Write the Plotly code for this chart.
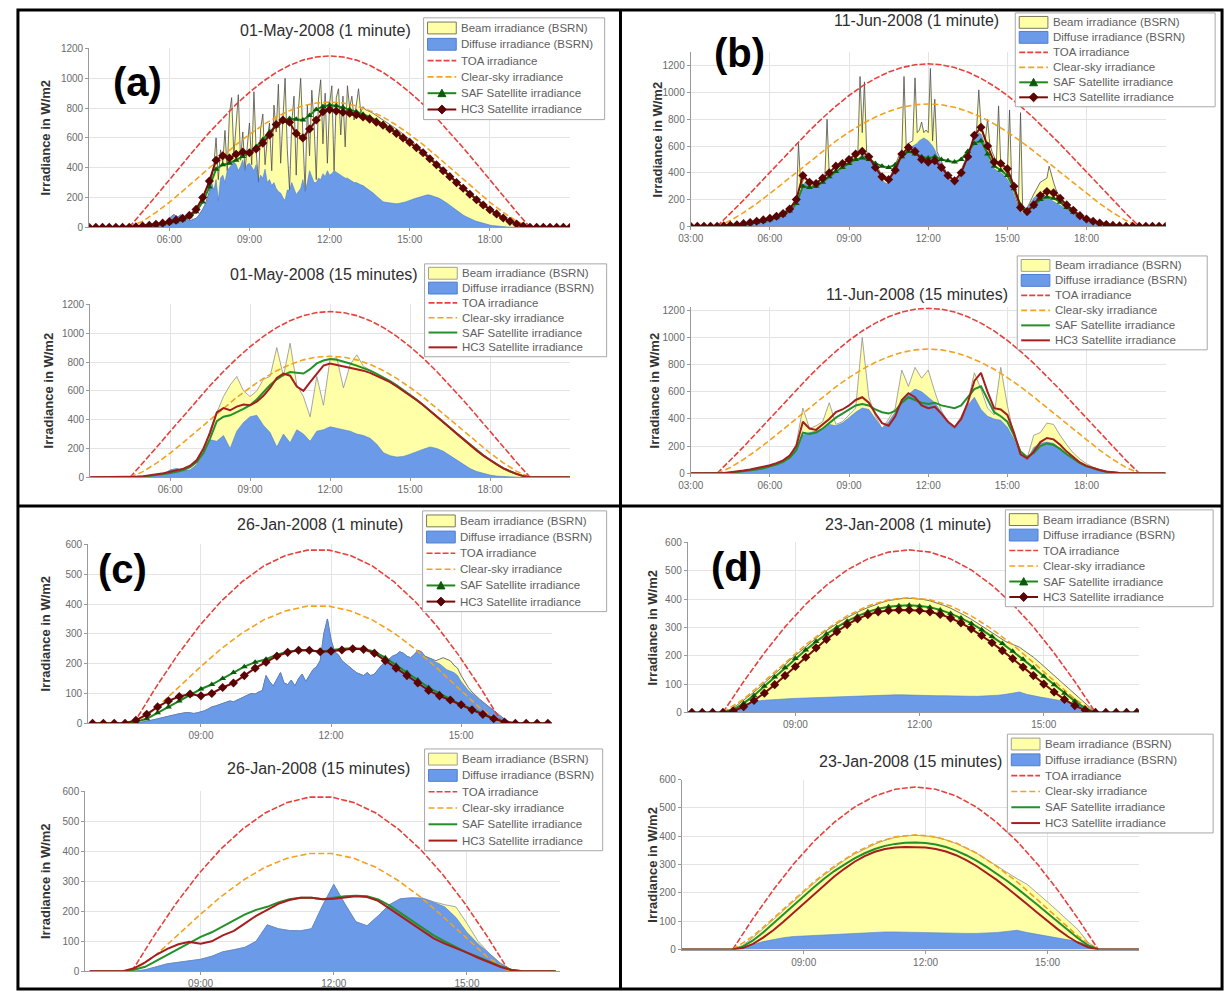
import plotly.graph_objects as go

W, H = 1227, 999

# ------------------------------------------------------------------ data ---
# All times are hours of the day. Each series lies on a regular grid given by
# its start hour and its step in minutes.

# ---------- 01-May-2008 ----------
MAY_SUN_START, MAY_SUN_STEP = 4.5, 30
MAY_TOA = [0, 103, 210, 318, 427, 534, 637, 734, 825, 906, 978, 1039, 1087, 1122, 1143, 1150,
           1143, 1122, 1087, 1039, 978, 906, 825, 734, 637, 534, 427, 318, 210, 103, 0]
MAY_CLEAR = [0, 41, 100, 168, 243, 322, 401, 479, 555, 623, 686, 740, 783, 815, 834, 840,
             834, 815, 783, 740, 686, 623, 555, 479, 401, 322, 243, 168, 100, 41, 0]

MAY_SAT_START, MAY_SAT_STEP = 3.0, 15
MAY_SAF = [0, 0, 0, 0, 0, 0, 0,
           2, 5, 10, 15, 22,
           30, 38, 50, 70,
           105, 170, 270, 390,
           420, 430, 450, 475,
           500, 540, 590, 640,
           680, 710, 730, 725,
           720, 750, 790, 810,
           820, 815, 805, 790,
           775, 758, 740, 718,
           695, 668, 638, 606,
           572, 537, 500, 462,
           423, 383, 343, 303,
           264, 225, 188, 152,
           120, 90, 62, 40,
           22, 8, 0, 0,
           0, 0, 0, 0, 0]
MAY_HC3 = [0, 0, 0, 0, 0, 0, 0,
           3, 8, 14, 20, 28,
           38, 48, 60, 80,
           120, 200, 310, 450,
           480, 465, 490, 505,
           500, 525, 565, 620,
           690, 720, 705, 630,
           600, 660, 720, 775,
           790, 780, 772, 765,
           755, 740, 725, 705,
           685, 660, 630, 600,
           570, 535, 500, 460,
           420, 380, 340, 300,
           262, 222, 185, 150,
           118, 90, 62, 40,
           22, 8, 0, 0,
           0, 0, 0, 0, 0]

MAY_Q_START, MAY_Q_STEP = 4.5, 15
MAY_GLOBAL_Q = [0, 2, 5, 8, 12, 20,
                50, 60, 45, 50,
                90, 180, 330, 450,
                560, 640, 700, 600,
                560, 600, 680, 700,
                900, 700, 930, 640,
                560, 420, 700, 500,
                820, 830, 620, 780,
                850, 770, 745, 720,
                690, 660, 630, 600,
                570, 535, 498, 460,
                420, 380, 340, 300,
                262, 222, 185, 150,
                118, 88, 60, 38,
                20, 7, 0]
MAY_DIFFUSE_Q = [0, 2, 5, 8, 12, 20,
                 50, 60, 45, 50,
                 85, 160, 260, 250,
                 290, 200, 320, 380,
                 420, 430, 360, 310,
                 210, 300, 240, 330,
                 300, 250, 320, 330,
                 350, 340, 330, 320,
                 300, 290, 270, 230,
                 170, 150, 140, 145,
                 160, 180, 195, 210,
                 200, 180, 150, 115,
                 85, 60, 40, 25,
                 15, 8, 4, 2,
                 1, 0, 0]

MAY_M_START, MAY_M_STEP = 4.5, 5
MAY_GLOBAL_M = [0, 1, 2, 3, 4, 5,
                6, 7, 8, 10, 11, 13, 15, 17, 20, 24, 30, 40,
                60, 75, 85, 80, 70, 82, 78, 60, 50, 45, 48, 52,
                60, 75, 95, 120, 150, 190, 240, 330, 420, 600, 320, 520,
                430, 650, 380, 760, 870, 480, 720, 890, 450, 640, 380, 570,
                700, 420, 910, 520, 300, 660, 760, 420, 590, 700, 380, 820,
                640, 960, 430, 720, 1000, 520, 250, 700, 880, 350, 790, 1000,
                600, 240, 820, 480, 920, 700, 320, 860, 990, 560, 900, 430,
                830, 950, 380, 870, 930, 620, 880, 540, 950, 800, 880, 720,
                820, 930, 770, 810, 790, 785, 775, 770, 760, 750, 745, 735,
                725, 715, 705, 695, 685, 675, 663, 650, 638, 626, 614, 602,
                590, 578, 565, 552, 540, 527, 514, 500, 487, 474, 460, 446,
                432, 418, 404, 390, 376, 362, 348, 334, 320, 306, 292, 278,
                264, 250, 237, 224, 211, 198, 186, 174, 162, 150, 139, 128,
                118, 108, 98, 89, 80, 72, 64, 56, 49, 42, 36, 30,
                24, 19, 14, 10, 6, 3, 0]
MAY_DIFFUSE_M = [0, 1, 2, 3, 4, 5,
                 6, 7, 8, 10, 11, 13, 15, 17, 20, 24, 30, 40,
                 60, 75, 85, 80, 70, 82, 78, 60, 50, 45, 48, 52,
                 60, 75, 95, 120, 150, 180, 230, 300, 250, 320, 180, 330,
                 350, 300, 380, 400, 420, 440, 420, 380, 410, 450, 380, 420,
                 430, 400, 380, 420, 300, 350, 330, 390, 300, 320, 280, 300,
                 260, 240, 230, 200, 180, 250, 250, 300, 260, 220, 240, 260,
                 320, 240, 300, 380, 340, 300, 300, 330, 320, 360, 340, 380,
                 350, 360, 380, 370, 360, 350, 340, 330, 330, 320, 310, 300,
                 300, 290, 285, 280, 270, 260, 250, 240, 225, 210, 195, 180,
                 172, 168, 165, 163, 160, 158, 158, 160, 162, 165, 170, 175,
                 182, 188, 192, 196, 200, 205, 210, 214, 218, 216, 212, 208,
                 202, 196, 188, 180, 170, 160, 148, 136, 124, 112, 100, 90,
                 82, 74, 66, 59, 52, 46, 40, 35, 30, 26, 22, 18,
                 15, 12, 10, 8, 6, 5, 4, 3, 2, 2, 1, 1,
                 1, 0, 0, 0, 0, 0, 0]

# ---------- 11-Jun-2008 ----------
JUN_SUN_START, JUN_SUN_STEP = 4.0, 30
JUN_TOA = [0, 95, 195, 299, 405, 511, 615, 715, 810, 898, 978, 1048, 1106, 1153, 1187, 1208, 1215,
           1208, 1187, 1153, 1106, 1048, 978, 898, 810, 715, 615, 511, 405, 299, 195, 95, 0]
JUN_CLEAR = [0, 43, 102, 170, 245, 324, 404, 484, 562, 637, 705, 766, 817, 859, 890, 909, 915,
             909, 890, 859, 817, 766, 705, 637, 562, 484, 404, 324, 245, 170, 102, 43, 0]

JUN_SAT_START, JUN_SAT_STEP = 3.0, 15
JUN_SAF = [0, 0, 0, 0, 0,
           2, 5, 9,
           14, 20, 28, 38,
           50, 65, 85, 115,
           170, 300, 290, 300,
           330, 370, 410, 440,
           470, 500, 510, 500,
           470, 450, 440, 460,
           520, 560, 540, 520,
           510, 520, 500, 490,
           480, 500, 560, 620,
           640, 540, 450, 420,
           380, 280, 160, 120,
           150, 200, 220, 210,
           180, 140, 105, 75,
           52, 35, 22, 12,
           6, 2, 0, 0,
           0, 0, 0, 0, 0]
JUN_HC3 = [0, 0, 0, 0, 0,
           3, 8, 12,
           20, 28, 38, 48,
           60, 75, 95, 130,
           200, 380, 330, 320,
           360, 400, 450, 470,
           500, 540, 560, 520,
           440, 370, 350, 420,
           540, 590, 560, 500,
           480, 490, 440, 380,
           340, 400, 520, 680,
           740, 600, 480, 470,
           430, 300, 140, 110,
           160, 230, 260, 250,
           210, 160, 120, 80,
           55, 38, 24, 14,
           7, 3, 0, 0,
           0, 0, 0, 0, 0]

JUN_Q_START, JUN_Q_STEP = 4.0, 15
JUN_GLOBAL_Q = [0, 3, 7, 12,
                18, 25, 33, 42,
                55, 68, 85, 115,
                220, 480, 330, 350,
                380, 520, 360, 380,
                430, 480, 1000, 560,
                420, 330, 400, 480,
                760, 640, 780, 700,
                760, 600, 460, 380,
                340, 420, 520, 740,
                620, 480, 430, 780,
                500, 280, 140, 110,
                280, 300, 370, 360,
                280, 210, 150, 105,
                70, 45, 28, 15,
                8, 3, 1, 0,
                0]
JUN_DIFFUSE_Q = [0, 3, 7, 12,
                 18, 25, 33, 42,
                 55, 68, 85, 115,
                 200, 280, 300, 310,
                 330, 360, 350, 370,
                 410, 450, 480, 470,
                 400, 330, 380, 450,
                 540, 580, 620, 600,
                 560, 520, 450, 370,
                 330, 400, 500, 560,
                 470, 420, 400, 390,
                 340, 250, 130, 100,
                 190, 220, 230, 220,
                 180, 140, 100, 70,
                 48, 32, 20, 11,
                 5, 2, 1, 0,
                 0]

JUN_M_START, JUN_M_STEP = 4.0, 5
JUN_GLOBAL_M = [0, 1, 2, 3, 4, 5, 6, 7, 8, 9, 10, 12,
                14, 16, 18, 20, 23, 26, 29, 32, 35, 38, 42, 46,
                50, 55, 60, 66, 72, 78, 85, 92, 100, 110, 120, 135,
                160, 620, 300, 340, 360, 330, 310, 300, 310, 330, 340, 350,
                340, 370, 800, 390, 400, 410, 420, 440, 450, 460, 470, 490,
                490, 500, 510, 520, 540, 1120, 700, 1080, 560, 520, 500, 490,
                470, 440, 400, 370, 350, 340, 350, 380, 420, 460, 500, 540,
                560, 1120, 600, 620, 630, 640, 1110, 700, 720, 780, 700, 720,
                700, 1180, 640, 950, 560, 520, 480, 440, 410, 390, 370, 350,
                340, 350, 380, 420, 460, 500, 540, 580, 620, 680, 720, 1020,
                760, 700, 650, 800, 620, 560, 520, 480, 900, 460, 440, 420,
                390, 870, 310, 260, 200, 150, 850, 110, 120, 140, 170, 210,
                240, 270, 300, 330, 340, 350, 360, 450, 380, 330, 280, 240,
                210, 190, 172, 156, 142, 128, 116, 105, 94, 84, 75, 66,
                58, 51, 45, 40, 35, 30, 26, 23, 20, 17, 14, 12,
                10, 9, 8, 7, 6, 5, 4, 3, 2, 1, 1, 0,
                0]
JUN_DIFFUSE_M = [0, 1, 2, 3, 4, 5, 6, 7, 8, 9, 10, 12,
                 14, 16, 18, 20, 23, 26, 29, 32, 35, 38, 42, 46,
                 50, 55, 60, 66, 72, 78, 85, 92, 100, 110, 120, 135,
                 160, 200, 260, 300, 330, 320, 300, 290, 300, 310, 320, 330,
                 320, 340, 360, 370, 380, 390, 400, 420, 430, 440, 450, 460,
                 460, 470, 480, 490, 500, 520, 540, 530, 520, 500, 480, 470,
                 450, 420, 380, 350, 330, 320, 330, 360, 400, 430, 470, 500,
                 520, 540, 560, 580, 590, 600, 610, 620, 640, 650, 660, 650,
                 640, 620, 600, 570, 530, 490, 450, 420, 390, 370, 350, 330,
                 320, 330, 360, 400, 440, 480, 520, 560, 600, 640, 680, 700,
                 690, 650, 600, 540, 480, 450, 430, 420, 410, 400, 390, 370,
                 350, 320, 280, 230, 180, 140, 110, 100, 110, 130, 160, 190,
                 210, 225, 235, 240, 235, 225, 215, 205, 195, 185, 175, 165,
                 155, 145, 135, 125, 115, 105, 96, 88, 80, 72, 65, 58,
                 52, 46, 41, 36, 32, 28, 24, 21, 18, 15, 13, 11,
                 9, 8, 7, 6, 5, 4, 3, 2, 2, 1, 1, 0,
                 0]

# ---------- 26-Jan-2008 ----------
J26_SUN_START, J26_SUN_STEP = 7.45, 30
J26_TOA = [0, 118, 227, 324, 407, 475, 528, 563, 581, 581, 563, 528, 475, 407, 324, 227, 118, 0]
J26_CLEAR = [0, 49, 116, 184, 248, 303, 347, 377, 393, 393, 377, 347, 303, 248, 184, 116, 49, 0]

J26_SAT_START, J26_SAT_STEP = 6.5, 15
J26_SAF = [0, 0,
           0, 0, 5, 15,
           35, 55, 75, 95,
           115, 130, 150, 170,
           190, 205, 215, 230,
           240, 245, 245, 240,
           245, 250, 252, 250,
           240, 220, 195, 170,
           145, 120, 100, 80,
           62, 48, 32, 17,
           5, 0, 0, 0,
           0]
J26_HC3 = [0, 0,
           0, 0, 10, 30,
           55, 75, 90, 98,
           92, 100, 120, 135,
           160, 185, 205, 225,
           238, 245, 245, 240,
           242, 246, 250, 248,
           235, 210, 185, 160,
           135, 110, 92, 78,
           62, 45, 30, 15,
           4, 0, 0, 0,
           0]

J26_Q_START, J26_Q_STEP = 7.5, 15
J26_GLOBAL_Q = [0, 5,
                15, 25, 30, 35,
                40, 50, 65, 72,
                80, 100, 155, 142,
                136, 135, 142, 220,
                290, 225, 165, 152,
                185, 222, 242, 245,
                244, 232, 222, 215,
                160, 100, 60, 28,
                5, 0]
J26_DIFFUSE_Q = [0, 5,
                 15, 25, 30, 35,
                 40, 50, 65, 72,
                 80, 100, 155, 142,
                 136, 135, 142, 220,
                 290, 225, 165, 152,
                 185, 222, 242, 245,
                 244, 230, 215, 180,
                 130, 92, 58, 27,
                 5, 0]

J26_M_START, J26_M_STEP = 7.5, 5
J26_GLOBAL_M = [0, 2, 4, 6, 9, 12,
                15, 18, 22, 25, 28, 30, 32, 34, 36, 35, 33, 35,
                38, 42, 48, 55, 58, 62, 65, 70, 75, 72, 78, 85,
                90, 95, 100, 98, 105, 110, 160, 140, 125, 150, 170, 135,
                130, 145, 125, 150, 165, 140, 160, 180, 190, 210, 300, 350,
                280, 240, 230, 210, 200, 190, 180, 170, 165, 160, 170, 160,
                165, 180, 195, 205, 215, 225, 230, 240, 235, 225, 220, 230,
                245, 240, 225, 220, 215, 210, 215, 220, 215, 210, 195, 185,
                160, 140, 120, 105, 92, 82, 72, 62, 52, 42, 32, 22,
                14, 7, 3, 0]
J26_DIFFUSE_M = [0, 2, 4, 6, 9, 12,
                 15, 18, 22, 25, 28, 30, 32, 34, 36, 35, 33, 35,
                 38, 42, 48, 55, 58, 62, 65, 70, 75, 72, 78, 85,
                 90, 95, 100, 98, 105, 110, 160, 140, 125, 150, 170, 135,
                 130, 145, 125, 150, 165, 140, 160, 180, 190, 210, 300, 350,
                 280, 240, 230, 210, 200, 190, 180, 170, 165, 160, 170, 160,
                 165, 180, 195, 205, 215, 225, 230, 240, 235, 225, 220, 230,
                 245, 240, 225, 220, 215, 205, 200, 190, 180, 175, 170, 160,
                 140, 125, 110, 100, 90, 80, 72, 62, 52, 42, 32, 22,
                 14, 7, 3, 0]

# ---------- 23-Jan-2008 ----------
J23_SUN_START, J23_SUN_STEP = 7.25, 30
J23_TOA = [0, 109, 210, 302, 382, 449, 503, 542, 566, 574, 566, 542, 503, 449, 382, 302, 210, 109, 0]
J23_CLEAR = [0, 47, 110, 176, 239, 294, 341, 376, 398, 405, 398, 376, 341, 294, 239, 176, 110, 47, 0]

J23_SAT_START, J23_SAT_STEP = 6.0, 15
J23_SAF = [0, 0, 0, 0,
           0, 0, 10, 32,
           60, 92, 125, 158,
           190, 220, 250, 277,
           300, 322, 340, 355,
           366, 373, 377, 378,
           376, 371, 362, 349,
           333, 314, 292, 268,
           243, 216, 188, 158,
           128, 98, 68, 40,
           15, 0, 0, 0,
           0, 0]
J23_HC3 = [0, 0, 0, 0,
           0, 0, 5, 20,
           42, 68, 98, 130,
           162, 195, 228, 258,
           285, 310, 330, 345,
           355, 360, 362, 362,
           360, 355, 346, 333,
           316, 295, 272, 246,
           218, 190, 160, 130,
           100, 72, 46, 24,
           8, 0, 0, 0,
           0, 0]

J23_Q_START, J23_Q_STEP = 7.25, 15
J23_GLOBAL_Q = [0, 15, 42,
                72, 105, 138, 171,
                203, 234, 263, 290,
                315, 337, 356, 372,
                386, 396, 401, 403,
                401, 396, 387, 374,
                358, 340, 318, 295,
                272, 250, 230, 200,
                168, 136, 103, 70,
                25, 0]
J23_DIFFUSE_Q = [0, 8, 18,
                 28, 36, 42, 46,
                 48, 50, 52, 54,
                 56, 58, 60, 61,
                 62, 62, 61, 60,
                 60, 59, 58, 58,
                 57, 57, 58, 60,
                 64, 68, 60, 54,
                 48, 42, 36, 28,
                 15, 0]

J23_M_START, J23_M_STEP = 7.25, 10
J23_GLOBAL_M = [0, 10, 25, 42, 62,
                82, 103, 125, 147, 169, 191,
                212, 233, 253, 272, 289, 306,
                321, 335, 348, 360, 370, 380,
                388, 395, 399, 402, 403, 402,
                399, 394, 387, 378, 368, 356,
                343, 329, 314, 298, 282, 266,
                250, 240, 230, 212, 195, 174,
                152, 130, 108, 86, 64, 42,
                20, 0]
J23_DIFFUSE_M = [0, 8, 18, 28, 35,
                 40, 43, 45, 47, 48, 49,
                 50, 51, 52, 53, 54, 55,
                 56, 57, 58, 59, 60, 61,
                 61, 62, 62, 62, 61, 61,
                 60, 60, 59, 59, 58, 58,
                 57, 57, 57, 58, 59, 61,
                 64, 68, 72, 64, 58, 54,
                 50, 46, 42, 37, 31, 24,
                 14, 0]

# ------------------------------------------------------------ tick labels ---
TICKS_MAY = [6, 9, 12, 15, 18]
TICK_LABELS_MAY = ["06:00", "09:00", "12:00", "15:00", "18:00"]
TICKS_JUN = [3, 6, 9, 12, 15, 18]
TICK_LABELS_JUN = ["03:00", "06:00", "09:00", "12:00", "15:00", "18:00"]
TICKS_JAN = [9, 12, 15]
TICK_LABELS_JAN = ["09:00", "12:00", "15:00"]

LEGEND_NAMES = ["Beam irradiance (BSRN)", "Diffuse irradiance (BSRN)", "TOA irradiance",
                "Clear-sky irradiance", "SAF Satellite irradiance", "HC3 Satellite irradiance"]

# ----------------------------------------------------------------- styles ---
FONT = "Liberation Sans, Arial, sans-serif"
YELLOW = "#ffffa8"
BLUE = "#6a9ae8"
TOA_RED = "#e8413c"
CLEAR_ORANGE = "#f4a21e"
TOA_DASH, CLEAR_DASH = "6px,2px", "6px,3px"
SAF_GREEN_M, SAF_MARK = "#1d8a1d", "#0b5a0b"
HC3_RED_M, HC3_MARK = "#7a0c0c", "#5a0505"
SAF_GREEN_Q, HC3_RED_Q = "#23902a", "#a61e1e"
GRID = "#e4e4e4"
AXIS = "#9a9a9a"
TICK_FONT = dict(size=10, color="#6a6a6a", family=FONT)


def grid(start, step_min, n):
    return [start + i * step_min / 60.0 for i in range(n)]


def day(sun_start, sun_step, toa, clear, sat_start, sat_step, saf, hc3):
    return dict(toa=(sun_start, sun_step, toa), clear=(sun_start, sun_step, clear),
                saf=(sat_start, sat_step, saf), hc3=(sat_start, sat_step, hc3))


MAY = day(MAY_SUN_START, MAY_SUN_STEP, MAY_TOA, MAY_CLEAR, MAY_SAT_START, MAY_SAT_STEP, MAY_SAF, MAY_HC3)
JUN = day(JUN_SUN_START, JUN_SUN_STEP, JUN_TOA, JUN_CLEAR, JUN_SAT_START, JUN_SAT_STEP, JUN_SAF, JUN_HC3)
J26 = day(J26_SUN_START, J26_SUN_STEP, J26_TOA, J26_CLEAR, J26_SAT_START, J26_SAT_STEP, J26_SAF, J26_HC3)
J23 = day(J23_SUN_START, J23_SUN_STEP, J23_TOA, J23_CLEAR, J23_SAT_START, J23_SAT_STEP, J23_SAF, J23_HC3)

# box = (left, right, top, bottom), legend = (left, top, right, bottom),
# tpos = (centre x, centre y) of the title, ylab = centre x of the axis title; all in pixels
SUBPLOTS = [
    dict(title="01-May-2008 (1 minute)", one_min=True, box=(77, 563, 43, 224), xr=(3, 21), yr=(0, 1200),
         dy=200, ticks=(TICKS_MAY, TICK_LABELS_MAY), legend=(415, 12, 598, 115), tpos=(316, 25), ylab=33,
         day=MAY, glob=(MAY_M_START, MAY_M_STEP, MAY_GLOBAL_M),
         diff=(MAY_M_START, MAY_M_STEP, MAY_DIFFUSE_M)),
    dict(title="01-May-2008 (15 minutes)", one_min=False, box=(78, 563, 302, 477), xr=(3, 21), yr=(0, 1200),
         dy=200, ticks=(TICKS_MAY, TICK_LABELS_MAY), legend=(416, 261, 600, 355), tpos=(314, 272), ylab=36,
         day=MAY, glob=(MAY_Q_START, MAY_Q_STEP, MAY_GLOBAL_Q),
         diff=(MAY_Q_START, MAY_Q_STEP, MAY_DIFFUSE_Q)),
    dict(title="11-Jun-2008 (1 minute)", one_min=True, box=(685, 1165, 47, 223), xr=(3, 21), yr=(0, 1300),
         dy=200, ticks=(TICKS_JUN, TICK_LABELS_JUN), legend=(1013, 7, 1215, 102), tpos=(913, 15), ylab=651,
         day=JUN, glob=(JUN_M_START, JUN_M_STEP, JUN_GLOBAL_M),
         diff=(JUN_M_START, JUN_M_STEP, JUN_DIFFUSE_M)),
    dict(title="11-Jun-2008 (15 minutes)", one_min=False, box=(685, 1165, 305, 473), xr=(3, 21),
         yr=(0, 1222), dy=200, ticks=(TICKS_JUN, TICK_LABELS_JUN), legend=(1015, 253, 1207, 348),
         tpos=(914, 292), ylab=648, day=JUN, glob=(JUN_Q_START, JUN_Q_STEP, JUN_GLOBAL_Q),
         diff=(JUN_Q_START, JUN_Q_STEP, JUN_DIFFUSE_Q)),
    dict(title="26-Jan-2008 (1 minute)", one_min=True, box=(76, 545, 545, 726), xr=(6.4, 17.1), yr=(0, 600),
         dy=100, ticks=(TICKS_JAN, TICK_LABELS_JAN), legend=(414, 511, 600, 613), tpos=(310, 525), ylab=33,
         day=J26, glob=(J26_M_START, J26_M_STEP, J26_GLOBAL_M),
         diff=(J26_M_START, J26_M_STEP, J26_DIFFUSE_M)),
    dict(title="26-Jan-2008 (15 minutes)", one_min=False, box=(73, 553, 795, 977), xr=(6.4, 17.1),
         yr=(0, 600), dy=100, ticks=(TICKS_JAN, TICK_LABELS_JAN), legend=(416, 752, 596, 855),
         tpos=(309, 772), ylab=33, day=J26, glob=(J26_Q_START, J26_Q_STEP, J26_GLOBAL_Q),
         diff=(J26_Q_START, J26_Q_STEP, J26_DIFFUSE_Q)),
    dict(title="23-Jan-2008 (1 minute)", one_min=True, box=(682, 1138, 543, 715), xr=(6.4, 17.3), yr=(0, 600),
         dy=100, ticks=(TICKS_JAN, TICK_LABELS_JAN), legend=(1003, 510, 1213, 608), tpos=(905, 525),
         ylab=646, day=J23, glob=(J23_M_START, J23_M_STEP, J23_GLOBAL_M),
         diff=(J23_M_START, J23_M_STEP, J23_DIFFUSE_M)),
    dict(title="23-Jan-2008 (15 minutes)", one_min=False, box=(676, 1138, 783, 955), xr=(6.0, 17.25),
         yr=(0, 600), dy=100, ticks=(TICKS_JAN, TICK_LABELS_JAN), legend=(1005, 737, 1213, 837),
         tpos=(907, 765), ylab=646, day=J23, glob=(J23_Q_START, J23_Q_STEP, J23_GLOBAL_Q),
         diff=(J23_Q_START, J23_Q_STEP, J23_DIFFUSE_Q)),
]

PANEL_LETTERS = [("(a)", 126, 77), ("(b)", 734, 48), ("(c)", 111, 570), ("(d)", 731, 568)]


def px(x):
    return x / W


def py(y):
    return 1 - y / H


def paper_path(points):
    return "M " + " L ".join(f"{px(x):.5f},{py(y):.5f}" for x, y in points) + " Z"


def legend_box(lx0, ly0, lx1, ly1, one_min):
    """Framed key with one row per series, drawn with shapes and text."""
    shp = [dict(type="rect", xref="paper", yref="paper", layer="above",
                x0=px(lx0), x1=px(lx1), y0=py(ly1), y1=py(ly0),
                line=dict(color="#a8a8a8", width=1), fillcolor="white")]
    ann = []
    row = (ly1 - ly0 - 4) / 6.0
    sx0, sx1 = lx0 + 4, lx0 + 33
    for j, name in enumerate(LEGEND_NAMES):
        cy = ly0 + 2 + row * (j + 0.5)
        line = dict(type="line", xref="paper", yref="paper", layer="above",
                    x0=px(sx0), x1=px(sx1), y0=py(cy), y1=py(cy))
        if j == 0:
            shp.append(dict(type="rect", xref="paper", yref="paper", layer="above",
                            x0=px(sx0), x1=px(sx1), y0=py(cy + 6), y1=py(cy - 6),
                            fillcolor=YELLOW, line=dict(color="#7a7a5a" if one_min else "#a0a090", width=1)))
        elif j == 1:
            shp.append(dict(type="rect", xref="paper", yref="paper", layer="above",
                            x0=px(sx0), x1=px(sx1), y0=py(cy + 6), y1=py(cy - 6),
                            fillcolor=BLUE, line=dict(color="#4f7fd0", width=1)))
        elif j == 2:
            shp.append(dict(line, line=dict(color=TOA_RED, width=1.6, dash=TOA_DASH)))
        elif j == 3:
            shp.append(dict(line, line=dict(color=CLEAR_ORANGE, width=1.6, dash=CLEAR_DASH)))
        elif j == 4:
            shp.append(dict(line, line=dict(color=SAF_GREEN_M if one_min else SAF_GREEN_Q, width=2)))
            if one_min:
                mx = (sx0 + sx1) / 2
                shp.append(dict(type="path", xref="paper", yref="paper", layer="above",
                                path=paper_path([(mx - 4, cy + 3.5), (mx + 4, cy + 3.5), (mx, cy - 4)]),
                                fillcolor=SAF_MARK, line=dict(color=SAF_MARK, width=1)))
        else:
            shp.append(dict(line, line=dict(color=HC3_RED_M if one_min else HC3_RED_Q, width=2)))
            if one_min:
                mx = (sx0 + sx1) / 2
                shp.append(dict(type="path", xref="paper", yref="paper", layer="above",
                                path=paper_path([(mx - 4.5, cy), (mx, cy - 4.5), (mx + 4.5, cy), (mx, cy + 4.5)]),
                                fillcolor=HC3_MARK, line=dict(color=HC3_MARK, width=1)))
        ann.append(dict(text=name, x=px(sx1 + 3), y=py(cy), xref="paper", yref="paper", showarrow=False,
                        xanchor="left", yanchor="middle",
                        font=dict(size=11.5, color="#5e5e5e", family=FONT)))
    return shp, ann


fig = go.Figure()
annotations, shapes = [], []

for i, sp in enumerate(SUBPLOTS, start=1):
    sfx = "" if i == 1 else str(i)
    xa, ya = "x" + sfx, "y" + sfx
    common = dict(xaxis=xa, yaxis=ya, showlegend=False)

    def series(src):
        s, st, vals = src
        return grid(s, st, len(vals)), vals

    gx, gy = series(sp["glob"])
    dx, dv = series(sp["diff"])
    edge = "#4d4d4d" if sp["one_min"] else "#8f8f8f"
    fig.add_trace(go.Scatter(x=gx, y=gy, mode="lines", fill="tozeroy", fillcolor=YELLOW,
                             line=dict(color=edge, width=0.8), name=LEGEND_NAMES[0], **common))
    fig.add_trace(go.Scatter(x=dx, y=dv, mode="lines", fill="tozeroy", fillcolor=BLUE,
                             line=dict(color="#4f7fd0", width=0.6), name=LEGEND_NAMES[1], **common))
    tx, ty = series(sp["day"]["toa"])
    fig.add_trace(go.Scatter(x=tx, y=ty, mode="lines", line=dict(color=TOA_RED, width=1.6, dash=TOA_DASH),
                             name=LEGEND_NAMES[2], **common))
    cx, cy = series(sp["day"]["clear"])
    fig.add_trace(go.Scatter(x=cx, y=cy, mode="lines",
                             line=dict(color=CLEAR_ORANGE, width=1.6, dash=CLEAR_DASH),
                             name=LEGEND_NAMES[3], **common))
    sx, sy = series(sp["day"]["saf"])
    hx, hy = series(sp["day"]["hc3"])
    if sp["one_min"]:
        fig.add_trace(go.Scatter(x=sx, y=sy, mode="lines+markers", line=dict(color=SAF_GREEN_M, width=2),
                                 marker=dict(symbol="triangle-up", size=6, color=SAF_MARK),
                                 name=LEGEND_NAMES[4], **common))
        fig.add_trace(go.Scatter(x=hx, y=hy, mode="lines+markers", line=dict(color=HC3_RED_M, width=2),
                                 marker=dict(symbol="diamond", size=7, color=HC3_MARK),
                                 name=LEGEND_NAMES[5], **common))
    else:
        fig.add_trace(go.Scatter(x=sx, y=sy, mode="lines", line=dict(color=SAF_GREEN_Q, width=2),
                                 name=LEGEND_NAMES[4], **common))
        fig.add_trace(go.Scatter(x=hx, y=hy, mode="lines", line=dict(color=HC3_RED_Q, width=2),
                                 name=LEGEND_NAMES[5], **common))

    x0, x1, yt, yb = sp["box"]
    tickvals, ticktext = sp["ticks"]
    fig.update_layout(**{
        "xaxis" + sfx: dict(domain=[px(x0), px(x1)], range=list(sp["xr"]), anchor=ya,
                            tickvals=tickvals, ticktext=ticktext, showgrid=True, gridcolor=GRID,
                            showline=True, linecolor=AXIS, ticks="outside", ticklen=3, tickcolor=AXIS,
                            tickfont=TICK_FONT, zeroline=False, fixedrange=True),
        "yaxis" + sfx: dict(domain=[py(yb), py(yt)], range=list(sp["yr"]), anchor=xa,
                            tick0=0, dtick=sp["dy"], showgrid=True, gridcolor=GRID,
                            showline=True, linecolor=AXIS, ticks="outside", ticklen=3, tickcolor=AXIS,
                            tickfont=TICK_FONT, zeroline=False, fixedrange=True),
    })

    lshp, lann = legend_box(*sp["legend"], sp["one_min"])
    shapes += lshp
    annotations += lann
    annotations.append(dict(text=sp["title"], x=px(sp["tpos"][0]), y=py(sp["tpos"][1]), xref="paper",
                            yref="paper", showarrow=False, xanchor="center", yanchor="middle",
                            font=dict(size=16, color="#2e2e2e", family=FONT)))
    annotations.append(dict(text="Irradiance in W/m2", x=px(sp["ylab"]), y=py((yt + yb) / 2), xref="paper",
                            yref="paper", showarrow=False, textangle=-90, xanchor="center",
                            yanchor="middle", font=dict(size=13, color="#333333", family=FONT,
                                                        weight="bold")))

for text, lx, ly in PANEL_LETTERS:
    annotations.append(dict(text=text, x=px(lx), y=py(ly), xref="paper", yref="paper", showarrow=False,
                            xanchor="center", yanchor="middle",
                            font=dict(size=40, color="black", family=FONT, weight="bold")))

frame_line = dict(type="line", xref="paper", yref="paper", layer="above", line=dict(color="black", width=3))
shapes += [
    dict(type="rect", xref="paper", yref="paper", layer="above", x0=px(5), x1=px(1222), y0=py(995),
         y1=py(4), line=dict(color="black", width=3)),
    dict(frame_line, x0=px(614), x1=px(614), y0=py(995), y1=py(4)),
    dict(frame_line, x0=px(5), x1=px(1222), y0=py(506), y1=py(506)),
]

fig.update_layout(width=W, height=H, margin=dict(l=0, r=0, t=0, b=0), autosize=False,
                  paper_bgcolor="white", plot_bgcolor="white", font=dict(family=FONT),
                  annotations=annotations, shapes=shapes, showlegend=False)

fig.write_html("out.html", config={"displayModeBar": False})
